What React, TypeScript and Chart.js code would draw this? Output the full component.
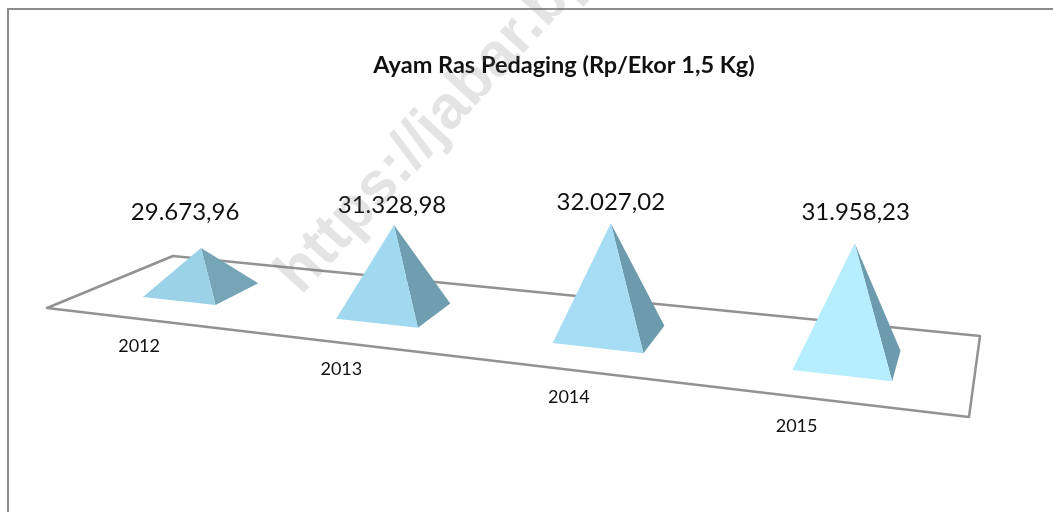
import React, { useEffect, useRef } from "react";
import { Chart, registerables } from "chart.js";

Chart.register(...registerables);

const categories = ["2012", "2013", "2014", "2015"];
const priceValues = [29673.96, 31328.98, 32027.02, 31958.23];
const valueLabels = ["29.673,96", "31.328,98", "32.027,02", "31.958,23"];
const chartTitle = "Ayam Ras Pedaging (Rp/Ekor 1,5 Kg)";
const watermark = "https://jabar.bps.go.id";

const leftFaces = ["#9bd2e8", "#a0d9f0", "#a6dcf4", "#b6edff"];
const rightFaces = ["#76a5b8", "#6f9eb1", "#6c9bad", "#6d9bae"];
const labelNudge = [[-16, -36], [-2, -20], [0, -21], [1, -31]];
const tickNudge = [[-2, 27], [-6, 26], [-9, 26], [-36, 25]];

// Corners of the tilted floor the pyramids stand on.
const FL = [47, 308];
const FR = [969, 417];
const BR = [980, 336];
const BL = [173, 256];
const V_NEAR = 0.33;
const V_FAR = 0.72;

const ease = (t: number) => 0.79 * t + 0.21 * t * t;
const floorPoint = (t: number, v: number): [number, number] => {
  const u = ease(t);
  const fx = FL[0] + (FR[0] - FL[0]) * u;
  const fy = FL[1] + (FR[1] - FL[1]) * u;
  const bx = BL[0] + (BR[0] - BL[0]) * u;
  const by = BL[1] + (BR[1] - BL[1]) * u;
  return [fx + (bx - fx) * v, fy + (by - fy) * v];
};

const poly = (ctx: CanvasRenderingContext2D, pts: number[][], fill: string) => {
  ctx.beginPath();
  pts.forEach((p, i) => (i ? ctx.lineTo(p[0], p[1]) : ctx.moveTo(p[0], p[1])));
  ctx.closePath();
  ctx.fillStyle = fill;
  ctx.fill();
};

const scenePlugin = {
  id: "scene",
  beforeDatasetsDraw(chart: any) {
    const ctx: CanvasRenderingContext2D = chart.ctx;
    ctx.save();
    ctx.fillStyle = "#ffffff";
    ctx.fillRect(0, 0, chart.width, chart.height);
    ctx.strokeStyle = "#8c8c8c";
    ctx.lineWidth = 2;
    ctx.beginPath();
    ctx.moveTo(8, chart.height);
    ctx.lineTo(8, 9);
    ctx.lineTo(chart.width, 9);
    ctx.stroke();
    ctx.strokeStyle = "#929292";
    ctx.lineWidth = 2.5;
    ctx.lineJoin = "round";
    ctx.beginPath();
    ctx.moveTo(FL[0], FL[1]);
    ctx.lineTo(BL[0], BL[1]);
    ctx.lineTo(BR[0], BR[1]);
    ctx.lineTo(FR[0], FR[1]);
    ctx.closePath();
    ctx.stroke();
    ctx.restore();
  },
  afterDatasetsDraw(chart: any) {
    const ctx: CanvasRenderingContext2D = chart.ctx;
    const xs = chart.scales.x;
    const ys = chart.scales.y;
    const bars = chart.getDatasetMeta(0).data;
    ctx.save();
    bars.forEach((bar: any, i: number) => {
      const t = (bar.x - xs.left) / xs.width;
      const half = bar.width / 2 / xs.width;
      const left = floorPoint(t - half, V_NEAR);
      const front = floorPoint(t + half, V_NEAR);
      const right = floorPoint(t + half, V_FAR);
      const centre = floorPoint(t, (V_NEAR + V_FAR) / 2);
      const perspective = 0.864 + 0.304 * t;
      const lean = 14 * Math.pow(ease(t), 4);
      const height = (ys.bottom - bar.y) * perspective;
      const apex = [centre[0] + lean, centre[1] - height];
      poly(ctx, [apex, front, right], rightFaces[i]);
      poly(ctx, [apex, left, front], leftFaces[i]);

      ctx.fillStyle = "#111111";
      ctx.textAlign = "center";
      ctx.textBaseline = "middle";
      ctx.font = "24px Lato";
      ctx.fillText(valueLabels[i], apex[0] + labelNudge[i][0], apex[1] + labelNudge[i][1]);

      const edge = floorPoint(t, 0);
      ctx.font = "18px Lato";
      ctx.fillText(categories[i], edge[0] + tickNudge[i][0], edge[1] + tickNudge[i][1]);
    });

    ctx.fillStyle = "#111111";
    ctx.font = "bold 23.5px Lato";
    ctx.textAlign = "center";
    ctx.textBaseline = "middle";
    ctx.fillText(chartTitle, 564, 65);

    ctx.translate(301, 296);
    ctx.rotate((-47.5 * Math.PI) / 180);
    ctx.font = 'bold 61px "Liberation Sans"';
    ctx.textAlign = "left";
    ctx.textBaseline = "alphabetic";
    ctx.fillStyle = "rgba(120,120,120,0.2)";
    ctx.fillText(watermark, 0, 0);
    ctx.restore();
  },
};

export default function App() {
  const ref = useRef<HTMLCanvasElement>(null);
  useEffect(() => {
    const chart = new Chart(ref.current!, {
      type: "bar",
      data: {
        labels: categories,
        datasets: [
          {
            label: chartTitle,
            data: priceValues,
            backgroundColor: "rgba(0,0,0,0)",
            barPercentage: 0.39,
            categoryPercentage: 1,
          },
        ],
      },
      options: {
        animation: false,
        responsive: false,
        layout: { padding: 0 },
        plugins: { legend: { display: false }, tooltip: { enabled: false } },
        scales: {
          x: { display: false },
          y: { display: false, min: 27800, max: 48280 },
        },
      },
      plugins: [scenePlugin],
    });
    return () => chart.destroy();
  }, []);
  return (
    <div style={{ position: "fixed", left: 0, top: 0, width: 1053, height: 512 }}>
      <canvas ref={ref} width={1053} height={512} style={{ display: "block" }} />
    </div>
  );
}
